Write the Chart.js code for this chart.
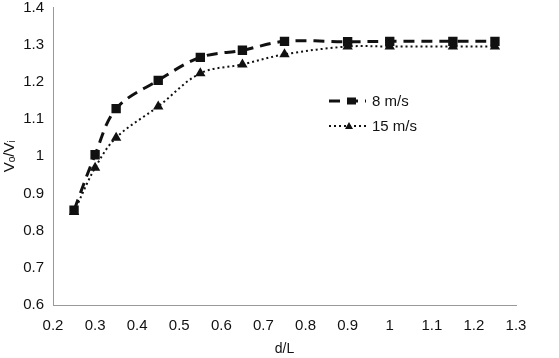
<!DOCTYPE html>
<html>
<head>
<meta charset="utf-8">
<script src="https://cdn.jsdelivr.net/npm/chart.js@4"></script>
<style>
  html, body { margin: 0; padding: 0; background: #fff; }
  #wrap { width: 559px; height: 358px; position: relative; }
</style>
</head>
<body>
<div id="wrap"><canvas id="myChart"></canvas></div>
<script>
// d/L values
const dL = [0.25, 0.3, 0.35, 0.45, 0.55, 0.65, 0.75, 0.9, 1.0, 1.15, 1.25];
// Vo/Vi for each wind speed
const v8 = [0.855, 1.004, 1.128, 1.204, 1.266, 1.285, 1.309, 1.308, 1.309, 1.309, 1.309];
const v15 = [0.85, 0.969, 1.05, 1.134, 1.223, 1.247, 1.274, 1.295, 1.295, 1.295, 1.295];
const seriesNames = ["8 m/s", "15 m/s"];

const toPts = (ys) => dL.map((x, i) => ({ x: x, y: ys[i] }));
const fmt = (v) => String(+v.toFixed(1));
const FONT = "'Liberation Sans', Arial, sans-serif";

// legend drawn inside the plot, like the original
const innerLegend = {
  id: "innerLegend",
  afterDraw(chart) {
    const ctx = chart.ctx;
    const items = [
      { ds: chart.data.datasets[0], y: 101 },
      { ds: chart.data.datasets[1], y: 126 }
    ];
    ctx.save();
    items.forEach(it => {
      ctx.strokeStyle = "#111";
      ctx.lineWidth = it.ds.borderWidth;
      ctx.setLineDash(it.ds.borderDash);
      ctx.beginPath();
      ctx.moveTo(329, it.y);
      ctx.lineTo(366, it.y);
      ctx.stroke();
      ctx.setLineDash([]);
      ctx.fillStyle = "#111";
      if (it.ds.pointStyle === "rect") {
        ctx.fillRect(347, it.y - 3.5, 9, 7);
      } else {
        ctx.beginPath();
        ctx.moveTo(349, it.y - 4);
        ctx.lineTo(353, it.y + 3);
        ctx.lineTo(345, it.y + 3);
        ctx.closePath();
        ctx.fill();
      }
      ctx.font = "15px " + FONT;
      ctx.textBaseline = "middle";
      ctx.fillText(it.ds.label, 372, it.y + 1);
    });
    ctx.restore();
  }
};

const ctx = document.getElementById("myChart").getContext("2d");
new Chart(ctx, {
  type: "line",
  data: {
    datasets: [{
      label: seriesNames[0],
      data: toPts(v8),
      borderColor: "#111",
      backgroundColor: "#111",
      borderWidth: 3,
      borderDash: [11, 7],
      pointStyle: "rect",
      pointRadius: 4.5,
      tension: 0.35,
      fill: false
    }, {
      label: seriesNames[1],
      data: toPts(v15),
      borderColor: "#111",
      backgroundColor: "#111",
      borderWidth: 2,
      borderDash: [2, 3],
      pointStyle: "triangle",
      pointRadius: 4,
      tension: 0.35,
      fill: false
    }]
  },
  options: {
    responsive: true,
    maintainAspectRatio: false,
    animation: false,
    layout: { padding: { top: 7, right: 43, left: 0, bottom: 0 } },
    plugins: { legend: { display: false }, tooltip: { enabled: false } },
    scales: {
      x: {
        type: "linear",
        min: 0.2,
        max: 1.3,
        grid: { display: false, drawTicks: true, tickLength: 5, color: "#999" },
        border: { color: "#999", width: 1 },
        ticks: {
          stepSize: 0.1,
          color: "#111",
          font: { family: FONT, size: 15 },
          padding: 7,
          maxRotation: 0,
          callback: fmt
        },
        title: {
          display: true,
          text: "d/L",
          color: "#111",
          font: { family: FONT, size: 14 },
          padding: { top: 7, bottom: 0 }
        },
        afterFit(scale) { scale.height = 53; }
      },
      y: {
        min: 0.6,
        max: 1.4,
        grid: { display: false, drawTicks: true, tickLength: 5, color: "#999" },
        border: { color: "#999", width: 1 },
        ticks: {
          stepSize: 0.1,
          color: "#111",
          font: { family: FONT, size: 15 },
          padding: 4,
          callback: fmt
        },
        title: {
          display: true,
          text: "Vₒ/Vᵢ",
          color: "#111",
          font: { family: FONT, size: 15 },
          padding: { top: 1, bottom: 0 }
        },
        afterFit(scale) {
          scale.width = 53;
          scale.paddingTop = 0;
          scale.paddingBottom = 0;
        }
      }
    }
  },
  plugins: [innerLegend]
});
</script>
</body>
</html>
